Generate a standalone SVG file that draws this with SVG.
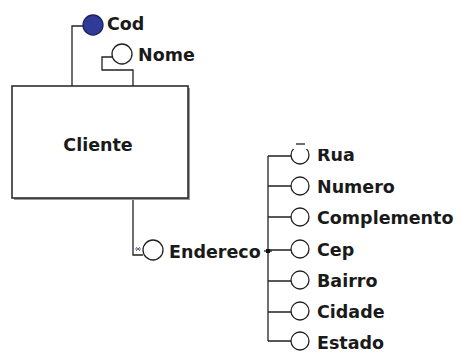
<svg xmlns="http://www.w3.org/2000/svg" width="460" height="356" viewBox="0 0 460 356">
<style>
.ln{fill:none;stroke:#222;stroke-width:1.3}
.att{fill:#fff;stroke:#222;stroke-width:1.3}
.key{fill:#2f3b96;stroke:#1c2260;stroke-width:1.3}
.lbl{font-family:"DejaVu Sans",Verdana,sans-serif;font-weight:bold;font-size:17.5px;fill:#1a1a1a}
</style>
<rect width="460" height="356" fill="#fff"/>
<g id="connectors">
<path class="ln" d="M72,86 V26 H83"/>
<path class="ln" d="M133,86 V70 H102 V57 H113"/>
<path class="ln" d="M133,198 V255 H143"/>
<path class="ln" d="M264,251 H272"/>
<path class="ln" d="M268,156 V341"/>
<path class="ln" d="M268,156 H292 M268,186 H292 M268,217 H292 M268,250 H292 M268,281 H292 M268,312 H292 M268,341 H292"/>
<rect x="266" y="249" width="4" height="4" fill="#111"/>
</g>
<g id="Cliente">
<rect x="14" y="88" width="176" height="112" fill="#999"/>
<rect x="12" y="86" width="176" height="112" fill="#fff" stroke="#222" stroke-width="1.5"/>
<text class="lbl" x="98" y="151" text-anchor="middle">Cliente</text>
</g>
<g id="Cod">
<circle class="key" cx="93" cy="25" r="10"/>
<text class="lbl" x="107" y="30">Cod</text>
</g>
<g id="Nome">
<circle class="att" cx="122" cy="54" r="10"/>
<text class="lbl" x="138" y="61">Nome</text>
</g>
<g id="Endereco">
<path d="M136,247 l4,4 M140,247 l-4,4 M135,249 h6" stroke="#6a6f9a" stroke-width="1" fill="none"/>
<circle class="att" cx="153" cy="250" r="10"/>
<text class="lbl" x="169" y="258">Endereco</text>
</g>
<g id="Rua">
<circle class="att" cx="300" cy="155" r="9"/>
<text class="lbl" x="317" y="161">Rua</text>
<rect x="282" y="138" width="70" height="11" fill="#fff"/>
<line x1="296" y1="144" x2="305" y2="144" stroke="#222" stroke-width="1.3"/>
</g>
<g id="Numero">
<circle class="att" cx="300" cy="186" r="9"/>
<text class="lbl" x="317" y="193">Numero</text>
</g>
<g id="Complemento">
<circle class="att" cx="300" cy="217" r="9"/>
<text class="lbl" x="317" y="224">Complemento</text>
</g>
<g id="Cep">
<circle class="att" cx="300" cy="249" r="9"/>
<text class="lbl" x="317" y="256">Cep</text>
</g>
<g id="Bairro">
<circle class="att" cx="300" cy="280" r="9"/>
<text class="lbl" x="317" y="287">Bairro</text>
</g>
<g id="Cidade">
<circle class="att" cx="300" cy="311" r="9"/>
<text class="lbl" x="317" y="318">Cidade</text>
</g>
<g id="Estado">
<circle class="att" cx="300" cy="341" r="9"/>
<text class="lbl" x="317" y="349">Estado</text>
</g>
</svg>
